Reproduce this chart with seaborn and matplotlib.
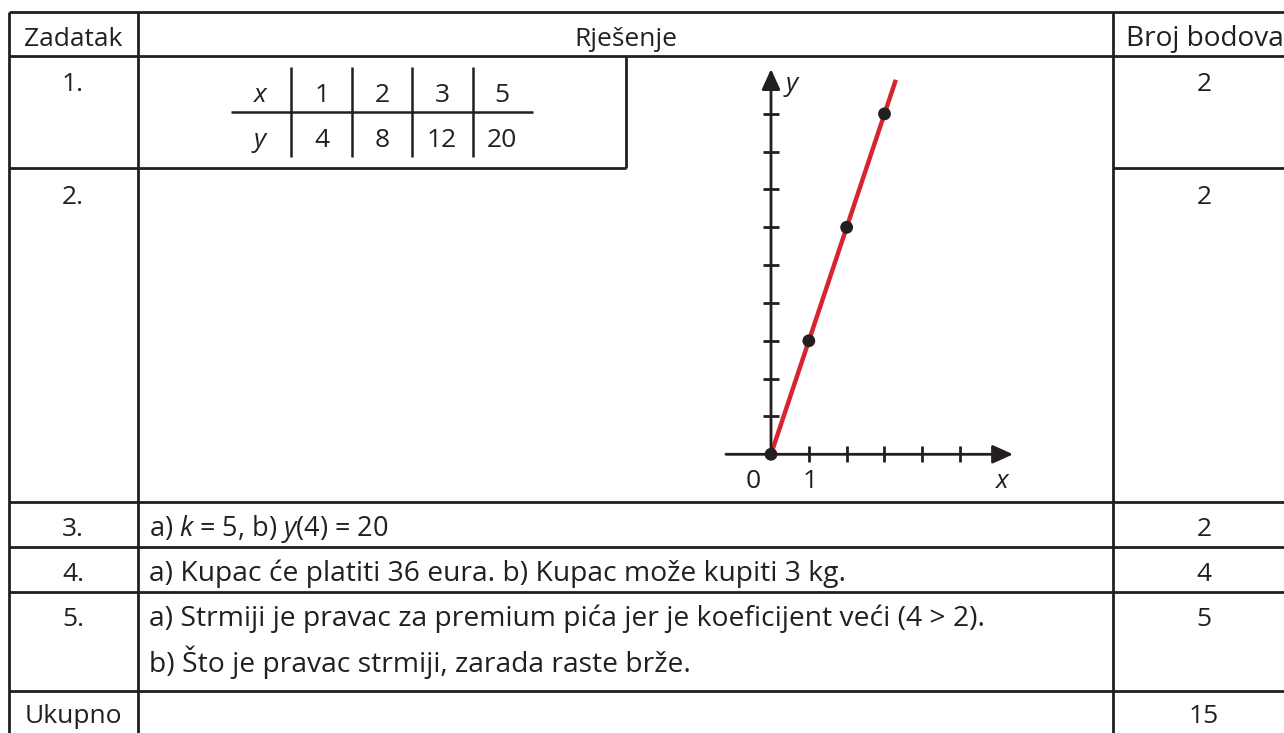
import matplotlib
matplotlib.use("Agg")
import matplotlib.pyplot as plt
import seaborn as sns
import pandas as pd

# ---------------- data ----------------
header = ["Zadatak", "Rješenje", "Broj bodova"]
task_labels = ["1.", "2.", "3.", "4.", "5.", "Ukupno"]
points = ["2", "2", "2", "4", "5", "15"]
answers_row3 = ["a) $k$ = 5, b) $y$(4) = 20"]
answer_row4 = "a) Kupac će platiti 36 eura. b) Kupac može kupiti 3 kg."
answer_row5a = "a) Strmiji je pravac za premium pića jer je koeficijent veći (4 > 2)."
answer_row5b = "b) Što je pravac strmiji, zarada raste brže."

table_x = [1, 2, 3, 5]
table_y = [4, 8, 12, 20]

point_x = [0, 1, 2, 3]
point_y = [0, 4, 8, 12]
line_x = [0, 3.3]
line_y = [0, 13.2]
x_ticks = [1, 2, 3, 4, 5]
y_ticks = [4 / 3 * k for k in range(1, 10)]

# ---------------- style ----------------
sns.set_theme(style="white")
plt.rcParams["font.family"] = ["Open Sans", "DejaVu Sans"]
plt.rcParams["mathtext.fontset"] = "custom"
plt.rcParams["mathtext.it"] = "Open Sans:italic"
plt.rcParams["mathtext.rm"] = "Open Sans"

INK = "#231f20"
RED = "#d5262d"
FS = 19
FS_ANS = 20.3
LW = 2.0

W, H = 1284, 733
fig = plt.figure(figsize=(W / 100, H / 100), dpi=100)
ax = fig.add_axes([0, 0, 1, 1])
ax.set_xlim(0, W)
ax.set_ylim(H, 0)
ax.set_axis_off()


def hline(y, x0, x1, lw=LW):
    ax.plot([x0, x1], [y, y], color=INK, lw=lw, solid_capstyle="butt")


def vline(x, y0, y1, lw=LW):
    ax.plot([x, x], [y0, y1], color=INK, lw=lw, solid_capstyle="butt")


# table grid
L, C1, C2, R = 9, 138, 1113, W
for y in [12, 56, 502, 547, 592, 691]:
    hline(y, L, R)
hline(168, L, C1)
hline(168, C1, 626)
hline(168, C2, R)
for x in [L, C1, C2]:
    vline(x, 12, H)
vline(626, 56, 168)

# header
ax.text(73, 46, header[0], ha="center", va="baseline", fontsize=FS, color=INK)
ax.text((C1 + C2) / 2, 46, header[1], ha="center", va="baseline", fontsize=FS, color=INK)
ax.text(1126, 46, header[2], ha="left", va="baseline", fontsize=20.2, color=INK)

# first column & points
baselines = [91, 204, 536, 581, 626, 723]
for lab, pt, b in zip(task_labels, points, baselines):
    ax.text(73, b, lab, ha="center", va="baseline", fontsize=FS, color=INK)
    ax.text(1204, b, pt, ha="center", va="baseline", fontsize=FS, color=INK)

# answers
ax.text(149, 536, answers_row3[0], ha="left", va="baseline", fontsize=19.5, color=INK)
ax.text(149, 581, answer_row4, ha="left", va="baseline", fontsize=FS_ANS, color=INK)
ax.text(149, 626, answer_row5a, ha="left", va="baseline", fontsize=FS_ANS, color=INK)
ax.text(149, 672, answer_row5b, ha="left", va="baseline", fontsize=FS_ANS, color=INK)

# small value table
col_cx = [322, 382, 442, 502]
for x in [291, 352, 412, 473]:
    vline(x, 67, 157, lw=1.8)
hline(112, 231, 533, lw=1.8)
ax.text(260, 102, "x", ha="center", va="baseline", fontsize=FS, color=INK, style="italic")
ax.text(260, 147, "y", ha="center", va="baseline", fontsize=FS, color=INK, style="italic")
for cx, xv, yv in zip(col_cx, table_x, table_y):
    ax.text(cx, 102, str(xv), ha="center", va="baseline", fontsize=FS, color=INK)
    ax.text(cx, 147, str(yv), ha="center", va="baseline", fontsize=FS, color=INK)

# ---------------- graph (inset axes) ----------------
px_l, px_r, px_t, px_b = 700, 1100, 60, 500
ox, oy = 771.0, 454.3
ux, uy = 37.83, 37.83 * 3 / 4
ax2 = fig.add_axes([px_l / W, (H - px_b) / H, (px_r - px_l) / W, (px_b - px_t) / H])
ax2.set_xlim((px_l - ox) / ux, (px_r - ox) / ux)
ax2.set_ylim((oy - px_b) / uy, (oy - px_t) / uy)
ax2.set_axis_off()
ax2.patch.set_alpha(0)

arrow = dict(arrowstyle="-|>,head_length=0.62,head_width=0.28", color=INK, lw=2.0,
             shrinkA=0, shrinkB=0, mutation_scale=20)
ax2.annotate("", xy=(6.4, 0), xytext=(-1.19, 0), arrowprops=arrow)
ax2.annotate("", xy=(0, 13.58), xytext=(0, 0), arrowprops=arrow)

tick_df_x = pd.DataFrame({"x": x_ticks, "y": [0] * len(x_ticks)})
tick_df_y = pd.DataFrame({"x": [0] * len(y_ticks), "y": y_ticks})
ax2.plot(tick_df_x["x"], tick_df_x["y"], ls="none", marker="|", ms=11.5, mew=2.0, color=INK)
ax2.plot(tick_df_y["x"], tick_df_y["y"], ls="none", marker="_", ms=11.5, mew=2.0, color=INK)

sns.lineplot(x=line_x, y=line_y, ax=ax2, color=RED, lw=3.2, solid_capstyle="butt")
sns.scatterplot(x=point_x, y=point_y, ax=ax2, color=INK, s=85, edgecolor="none", zorder=5)

ax.text(753, 488, "0", ha="center", va="baseline", fontsize=FS, color=INK)
ax.text(810, 488, "1", ha="center", va="baseline", fontsize=FS, color=INK)
ax.text(1002, 488, "x", ha="center", va="baseline", fontsize=FS, color=INK, style="italic")
ax.text(792, 91, "y", ha="center", va="baseline", fontsize=FS, color=INK, style="italic")

fig.savefig("out.png", dpi=100)
